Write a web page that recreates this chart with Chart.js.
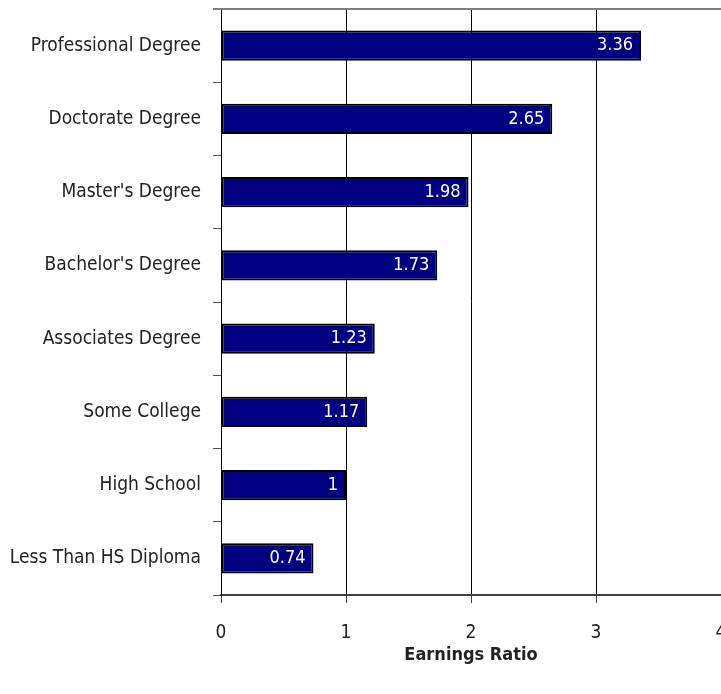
<!DOCTYPE html>
<html>
<head>
<meta charset="utf-8">
<script src="https://cdn.jsdelivr.net/npm/chart.js@4"></script>
<style>
  html, body { margin: 0; padding: 0; background: #fff; }
  #wrap { width: 721px; height: 694px; }
</style>
</head>
<body>
<div id="wrap"><canvas id="ratioChart"></canvas></div>
<script>
const categories = [
    "Professional Degree",
    "Doctorate Degree",
    "Master's Degree",
    "Bachelor's Degree",
    "Associates Degree",
    "Some College",
    "High School",
    "Less Than HS Diploma",
];
const ratios = [3.36, 2.65, 1.98, 1.73, 1.23, 1.17, 1, 0.74];
const xTicks = [0, 1, 2, 3, 4];

const FONT = "'Liberation Sans Narrow', 'DejaVu Sans Condensed', 'Arial Narrow', sans-serif";

// white value text at the end of each bar
const valueLabels = {
    id: "valueLabels",
    afterDatasetsDraw(chart) {
        const ctx = chart.ctx;
        const meta = chart.getDatasetMeta(0);
        ctx.save();
        ctx.fillStyle = "#fff";
        ctx.font = "18px " + FONT;
        ctx.textAlign = "right";
        ctx.textBaseline = "middle";
        meta.data.forEach((bar, i) => {
            ctx.fillText(String(ratios[i]), bar.x - 8, bar.y);
        });
        ctx.restore();
    },
};

// grey frame line along the top of the plot
const topFrame = {
    id: "topFrame",
    afterDraw(chart) {
        const { ctx, chartArea } = chart;
        ctx.save();
        ctx.strokeStyle = "#808080";
        ctx.lineWidth = 2;
        ctx.beginPath();
        ctx.moveTo(chartArea.left - 8, chartArea.top);
        ctx.lineTo(chartArea.right, chartArea.top);
        ctx.stroke();
        ctx.restore();
    },
};

new Chart(document.getElementById("ratioChart").getContext("2d"), {
    type: "bar",
    data: {
        labels: categories,
        datasets: [
            {
                data: ratios,
                backgroundColor: "#000080",
                borderColor: "#000",
                borderWidth: 2,
                borderSkipped: false,
                categoryPercentage: 1,
                barPercentage: 0.41,
            },
        ],
    },
    options: {
        indexAxis: "y",
        responsive: true,
        maintainAspectRatio: false,
        animation: false,
        layout: { padding: { top: 9, left: 0, right: 0, bottom: 0 } },
        plugins: {
            legend: { display: false },
            tooltip: { enabled: false },
        },
        scales: {
            x: {
                min: 0,
                max: 4,
                afterBuildTicks(scale) {
                    scale.ticks = xTicks.map(v => ({ value: v }));
                },
                afterFit(scale) {
                    scale.height = 99;
                    scale.paddingLeft = 0;
                    scale.paddingRight = 0;
                },
                grid: {
                    color: "#000",
                    lineWidth: 1,
                    tickLength: 8,
                    tickColor: "#404040",
                },
                border: { color: "#404040", width: 2 },
                ticks: {
                    color: "#222",
                    padding: 19,
                    font: { family: FONT, size: 19 },
                },
                title: {
                    display: true,
                    text: "Earnings Ratio",
                    color: "#222",
                    font: { family: FONT, size: 18, weight: "bold" },
                    padding: { top: 0, bottom: 28 },
                },
            },
            y: {
                afterFit(scale) {
                    scale.width = 221;
                    scale.paddingTop = 0;
                    scale.paddingBottom = 0;
                },
                grid: {
                    offset: true,
                    drawOnChartArea: false,
                    tickLength: 8,
                    color: "#555",
                },
                border: { color: "#000", width: 1 },
                ticks: {
                    color: "#222",
                    padding: 12,
                    font: { family: FONT, size: 19 },
                },
            },
        },
    },
    plugins: [valueLabels, topFrame],
});
</script>
</body>
</html>
